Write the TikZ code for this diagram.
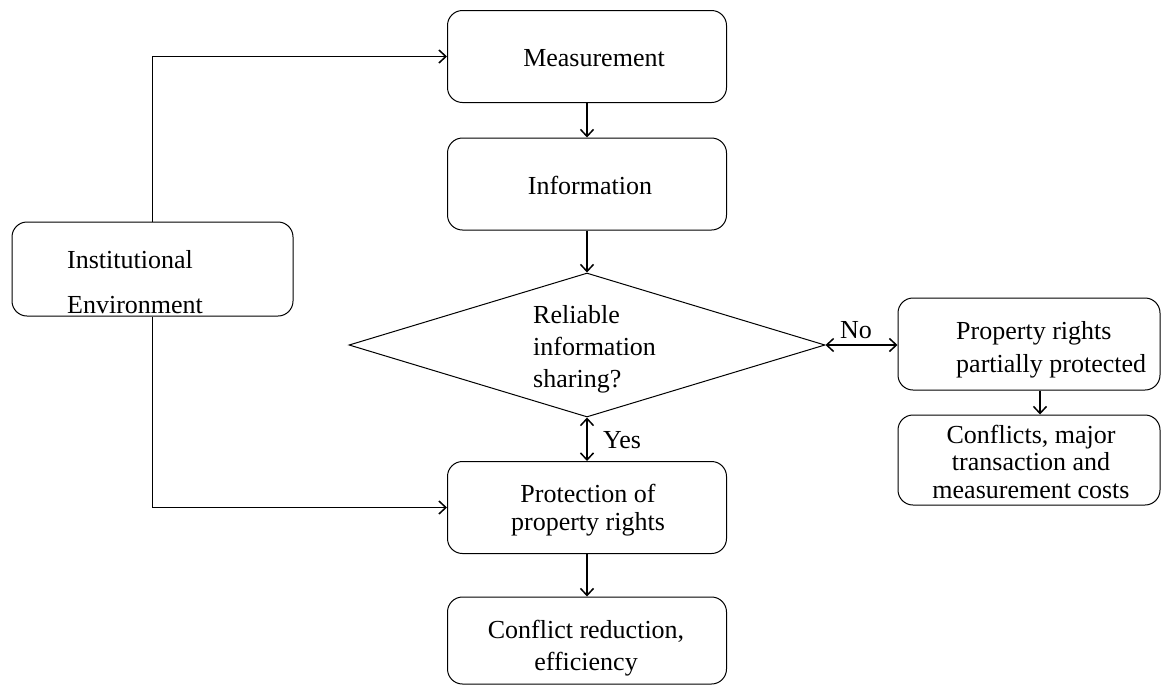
\documentclass[tikz,border=0pt]{standalone}
\usepackage{fontspec}
\setmainfont{Liberation Serif}
\usetikzlibrary{shapes.geometric,arrows.meta}
\begin{document}
\begin{tikzpicture}[x=1pt,y=-1pt,
  box/.style={draw,rounded corners=15pt,line width=1pt,minimum width=279pt,minimum height=92pt,inner sep=0pt},
  txt/.style={font=\fontsize{26}{30}\selectfont,align=center,inner sep=0pt,anchor=base},
  conn/.style={line width=1.5pt,-{Straight Barb[length=7pt,width=13pt,line width=1.5pt]}},
  bconn/.style={line width=1.5pt,{Straight Barb[length=7pt,width=13pt,line width=1.5pt]}-{Straight Barb[length=7pt,width=13pt,line width=1.5pt]}}]
\useasboundingbox (0,0) rectangle (1172,689);
\node[box] (meas) at (587,56.5) {};
\node[txt] (meast) at (594,66) {Measurement};
\node[box] (info) at (587,184) {};
\node[txt] (infot) at (590,194) {Information};
\node[draw,diamond,line width=1pt,minimum width=476pt,minimum height=144pt,inner sep=0pt] (dec) at (587,345) {};
\node[txt,align=left,anchor=base west,font=\fontsize{26}{32}\selectfont] (dect) at (533,387) {Reliable\\information\\sharing?};
\node[box] (prot) at (587,507.5) {};
\node[txt,font=\fontsize{26}{28}\selectfont] (prott) at (588,530) {Protection of\\property rights};
\node[box,minimum height=87pt] (red) at (587,640.5) {};
\node[txt,font=\fontsize{26}{32}\selectfont] (redt) at (586,670) {Conflict reduction,\\efficiency};
\node[box,minimum width=281pt,minimum height=94pt] (inst) at (152.5,269) {};
\node[txt,align=left,anchor=base west,font=\fontsize{26}{45}\selectfont] (instt) at (67,313) {Institutional\\Environment};
\node[box,minimum width=262pt] (part) at (1029,344) {};
\node[txt,align=left,anchor=base west,font=\fontsize{26}{33}\selectfont] (partt) at (956,372) {Property rights\\partially protected};
\node[box,minimum width=262pt,minimum height=90pt] (maj) at (1029,460) {};
\node[txt,font=\fontsize{26}{27.5}\selectfont] (majt) at (1031,498) {Conflicts, major\\transaction and\\measurement costs};
\coordinate (ynote) at (603,448);
\coordinate (nnote) at (840,338);
\draw[conn] (meas) -- (info);
\draw[conn] (info) -- (dec.north);
\draw[bconn] (dec.south) -- (prot);
\node[txt,anchor=base west] (yes) at (ynote) {Yes};
\draw[bconn] (dec.east) -- (part.west |- dec.east);
\node[txt,anchor=base west] (no) at (nnote) {No};
\draw[conn] (part.south -| 1040,0) -- (maj.north -| 1040,0);
\draw[conn] (prot) -- (red);
\draw[conn] (inst.north) |- (meas.west);
\draw[conn] (inst.south) |- (prot.west);
\end{tikzpicture}
\end{document}
